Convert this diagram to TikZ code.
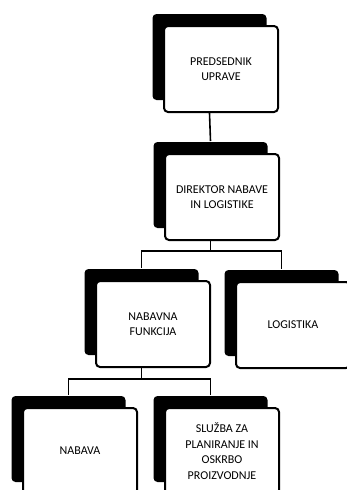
\documentclass[tikz,border=0pt]{standalone}
\usepackage{fontspec}
\setmainfont{Carlito}
\usetikzlibrary{shadows}

\tikzset{
  unitbox/.style={draw, line width=2pt, fill=white, rounded corners=4pt,
    minimum width=114pt, minimum height=86pt, align=center, inner sep=2pt,
    font=\fontsize{12}{15.5}\selectfont,
    general shadow={fill=black, shadow xshift=-11.5pt, shadow yshift=12pt}},
  link/.style={line width=1.6pt}
}

\begin{document}
\begin{tikzpicture}[x=1pt,y=-1pt]
  \useasboundingbox (0,0) rectangle (347,490);
  \clip (0,0) rectangle (347,490);

  % Top two levels
  \node[unitbox] (pred) at (221,69) {PREDSEDNIK\\UPRAVE};
  \node[unitbox] (dir) at (222,197) {DIREKTOR NABAVE\\IN LOGISTIKE};

  % Third level
  \node[unitbox] (nab) at (153,324) {NABAVNA\\FUNKCIJA};
  \node[unitbox] (log) at (293,325) {LOGISTIKA};

  % Bottom level
  \node[unitbox] (nabava) at (80,451) {NABAVA};
  \node[unitbox] (sluzba) at (222,451) {SLUŽBA ZA\\PLANIRANJE IN\\OSKRBO\\PROIZVODNJE};

  % Connectors
  \draw[link] ([xshift=-11.5pt]pred.south) -- ([shift={(-11.5pt,12pt)}]dir.north);

  \coordinate (bar1) at ([shift={(-11.5pt,-10pt)}]dir.south);
  \draw[link] ([xshift=-11.5pt]dir.south) -- (bar1);
  \draw[link] ([shift={(-11.5pt,12pt)}]nab.north) |- (bar1)
    -| ([shift={(-11.5pt,12pt)}]log.north);

  \coordinate (bar2) at ([shift={(-11.5pt,-11pt)}]nab.south);
  \draw[link] ([xshift=-11.5pt]nab.south) -- (bar2);
  \draw[link] ([shift={(-11.5pt,12pt)}]nabava.north) |- (bar2)
    -| ([shift={(-11.5pt,12pt)}]sluzba.north);
\end{tikzpicture}
\end{document}
